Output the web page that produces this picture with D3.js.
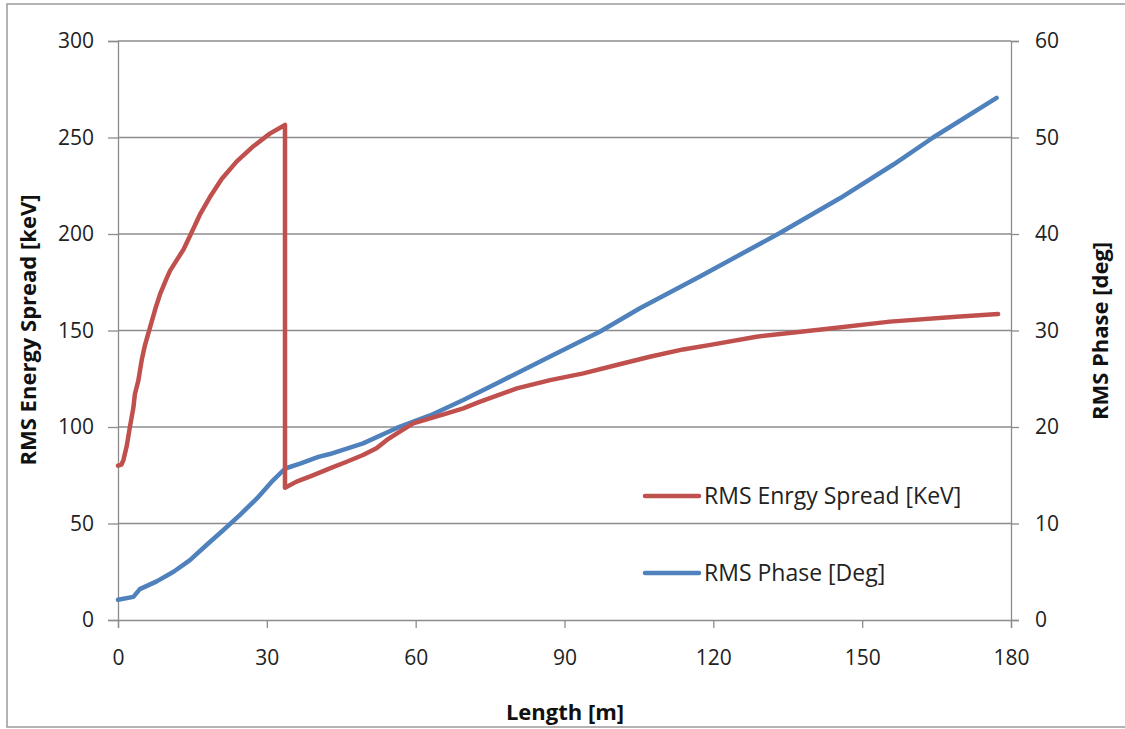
<!DOCTYPE html>
<html>
<head>
<meta charset="utf-8">
<title>RMS Energy Spread and Phase</title>
<script src="https://d3js.org/d3.v7.min.js"></script>
<style>
  body { margin: 0; background: #fff; font-family: "Open Sans", sans-serif; }
  .grid line { stroke: #8c8c8c; stroke-width: 1.3; }
  .axis path, .axis line { stroke: #8c8c8c; stroke-width: 1.3; }
  .axis text { font-size: 21px; fill: #222; font-family: "Open Sans", sans-serif; }
  .title { font-size: 22px; font-weight: bold; fill: #111; }
</style>
</head>
<body>
<svg width="1125" height="729"></svg>
<script>
// red series: RMS energy spread [keV] vs length [m]
const spreadLength = [0, 0.7, 1.1, 1.75, 2.4, 3.1, 3.4, 4.1, 4.8, 5.4, 6.5, 7.5, 8.5, 9.8,
  10.5, 13.2, 14.5, 16.5, 18.5, 20.9, 23.9, 27.3, 30.6, 33.66,
  33.66, 36.0, 39.4, 42.7, 46.1, 49.4, 52.1, 54.2, 56.8, 59.5, 62.9, 66.3, 69.6, 73.0,
  80.4, 87.1, 93.8, 100.5, 107.2, 113.9, 120.0, 128.7, 142.2, 155.6, 169.0, 177.4];
const spreadValues = [80, 80.5, 83, 90, 100, 110, 117, 124, 135, 142, 152, 161, 169, 177,
  181, 192, 199, 210, 219, 228.5, 237.5, 245.5, 252, 256.5,
  68.5, 71.7, 75.1, 78.6, 82.0, 85.5, 89, 93.3, 97.6, 101.9, 104.5, 107.1, 109.7, 113.1,
  120, 124.3, 127.8, 132.1, 136.4, 140.2, 142.8, 146.8, 150.6, 154.6, 157.1, 158.5];

// blue series: RMS phase [deg] vs length [m]
const phaseLength = [0, 3.1, 4.4, 7.8, 11.2, 14.5, 17.9, 21.2, 24.6, 28.0, 31.3, 33.7,
  36.7, 40.4, 42.7, 49.4, 56.2, 62.9, 69.6, 77.0, 87.1, 97.2, 105.2, 117.3, 133.4,
  145.5, 156.3, 164.3, 177.1];
const phaseValues = [2.1, 2.4, 3.2, 4.0, 5.0, 6.2, 7.8, 9.3, 10.9, 12.6, 14.5, 15.7,
  16.2, 16.9, 17.2, 18.3, 19.9, 21.2, 22.8, 24.7, 27.3, 29.9, 32.3, 35.6, 40.1,
  43.7, 47.2, 50.0, 54.1];

const xTicks = [0, 30, 60, 90, 120, 150, 180];
const leftTicks = [0, 50, 100, 150, 200, 250, 300];
const rightTicks = [0, 10, 20, 30, 40, 50, 60];

const seriesNames = ["RMS Enrgy Spread [KeV]", "RMS Phase [Deg]"];
const seriesColors = ["#C0504D", "#4F81BD"];

const svg = d3.select("svg");

// chart border
svg.append("rect")
  .attr("x", 7).attr("y", 4)
  .attr("width", 1130).attr("height", 723)
  .attr("fill", "#fff")
  .attr("stroke", "#9a9a9a")
  .attr("stroke-width", 1.5);

const plotLeft = 118, plotRight = 1011, plotTop = 41, plotBottom = 620;

const x = d3.scaleLinear().domain([0, 180]).range([plotLeft, plotRight]);
const yL = d3.scaleLinear().domain([0, 300]).range([plotBottom, plotTop]);
const yR = d3.scaleLinear().domain([0, 60]).range([plotBottom, plotTop]);

// horizontal gridlines
svg.append("g").attr("class", "grid")
  .selectAll("line")
  .data(leftTicks.filter(d => d > 0))
  .join("line")
  .attr("x1", plotLeft).attr("x2", plotRight)
  .attr("y1", d => yL(d)).attr("y2", d => yL(d));

// axes
svg.append("g").attr("class", "axis")
  .attr("transform", `translate(0,${plotBottom})`)
  .call(d3.axisBottom(x).tickValues(xTicks).tickSizeOuter(0).tickSize(8).tickPadding(22));

svg.append("g").attr("class", "axis")
  .attr("transform", `translate(${plotLeft},0)`)
  .call(d3.axisLeft(yL).tickValues(leftTicks).tickSizeOuter(0).tickSize(10).tickPadding(14));

svg.append("g").attr("class", "axis")
  .attr("transform", `translate(${plotRight},0)`)
  .call(d3.axisRight(yR).tickValues(rightTicks).tickSizeOuter(0).tickSize(8).tickPadding(16));

// lines
const spreadData = spreadLength.map((d, i) => [d, spreadValues[i]]);
const phaseData = phaseLength.map((d, i) => [d, phaseValues[i]]);

svg.append("path")
  .datum(phaseData)
  .attr("fill", "none")
  .attr("stroke", seriesColors[1])
  .attr("stroke-width", 4.5)
  .attr("stroke-linejoin", "round")
  .attr("stroke-linecap", "round")
  .attr("d", d3.line().x(d => x(d[0])).y(d => yR(d[1])));

svg.append("path")
  .datum(spreadData)
  .attr("fill", "none")
  .attr("stroke", seriesColors[0])
  .attr("stroke-width", 4.5)
  .attr("stroke-linejoin", "round")
  .attr("stroke-linecap", "round")
  .attr("d", d3.line().x(d => x(d[0])).y(d => yL(d[1])));

// legend
const legendY = [496, 573];
const legend = svg.append("g");
seriesNames.forEach((name, i) => {
  legend.append("line")
    .attr("x1", 645).attr("x2", 699)
    .attr("y1", legendY[i]).attr("y2", legendY[i])
    .attr("stroke", seriesColors[i])
    .attr("stroke-width", 4.5)
    .attr("stroke-linecap", "round");
  legend.append("text")
    .attr("x", 704).attr("y", legendY[i])
    .attr("dy", "0.35em")
    .attr("font-size", 23)
    .attr("fill", "#222")
    .text(name);
});

// axis titles
svg.append("text").attr("class", "title")
  .attr("x", 565).attr("y", 712)
  .attr("text-anchor", "middle")
  .attr("dy", "0.35em")
  .text("Length [m]");

svg.append("text").attr("class", "title")
  .attr("transform", "translate(28,330) rotate(-90)")
  .attr("text-anchor", "middle")
  .attr("dy", "0.35em")
  .text("RMS Energy Spread [keV]");

svg.append("text").attr("class", "title")
  .attr("transform", "translate(1100,331) rotate(-90)")
  .attr("text-anchor", "middle")
  .attr("dy", "0.35em")
  .text("RMS Phase [deg]");
</script>
</body>
</html>
